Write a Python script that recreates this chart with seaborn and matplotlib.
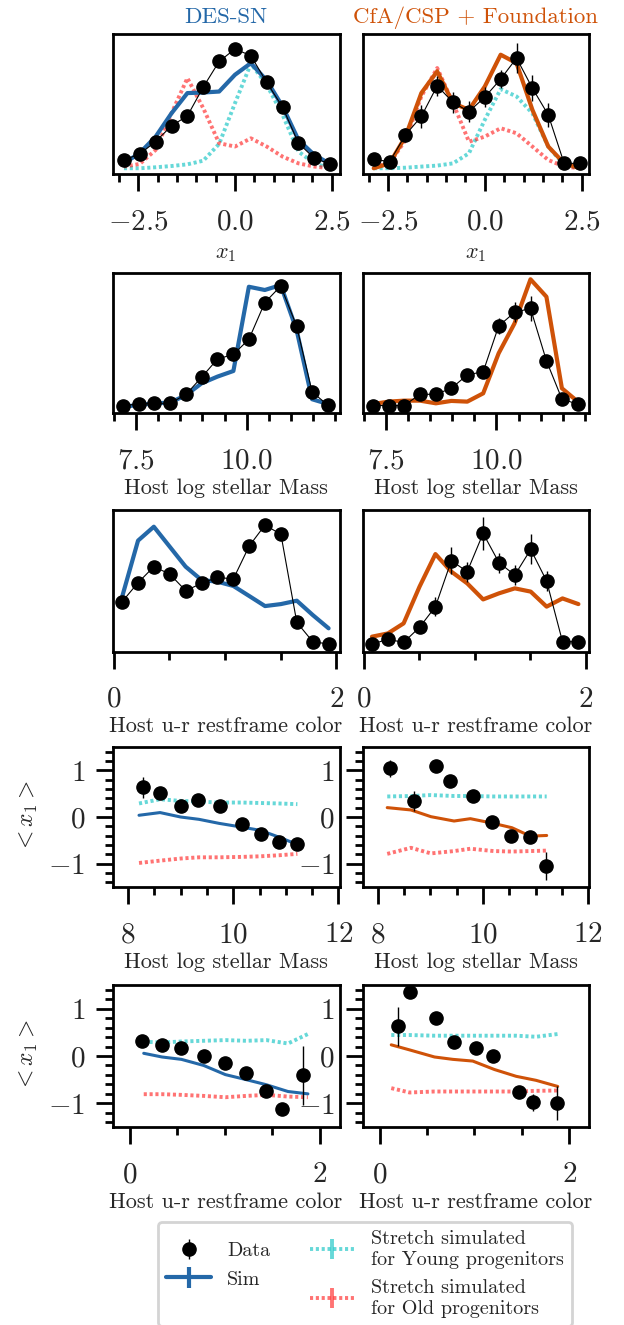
import matplotlib
matplotlib.use("Agg")
import matplotlib.pyplot as plt
from matplotlib.ticker import MultipleLocator, NullLocator
import seaborn as sns

# style first, fonts after (set_theme resets font.family)
sns.set_theme(style="ticks")
plt.rcParams["font.family"] = ["cmr10", "DejaVu Serif"]
plt.rcParams["mathtext.fontset"] = "cm"
plt.rcParams["axes.formatter.use_mathtext"] = True
plt.rcParams["xtick.labelsize"] = 21
plt.rcParams["ytick.labelsize"] = 21

DES_COLOR = "#2468a8"
CFA_COLOR = "#cf5208"
YOUNG_COLOR = (0.0, 0.75, 0.75)
OLD_COLOR = (1.0, 0.0, 0.0)
BLACK = "#000000"
DOTS = (0, (0.8, 0.7))

# ---- distributions (normalised, arbitrary units) ----
X1_BINS = [-2.87, -2.46, -2.05, -1.64, -1.23, -0.82, -0.41, 0.0, 0.41, 0.82, 1.23, 1.64, 2.05, 2.46]
des_x1_data = [0.100, 0.143, 0.232, 0.344, 0.415, 0.621, 0.804, 0.893, 0.845, 0.654, 0.477, 0.220, 0.112, 0.072]
des_x1_err = [0.03] * 14
des_x1_sim = [0.076, 0.150, 0.267, 0.434, 0.578, 0.582, 0.589, 0.709, 0.792, 0.668, 0.482, 0.243, 0.136, 0.072]
des_x1_young = [0.041, 0.041, 0.048, 0.057, 0.069, 0.095, 0.215, 0.506, 0.788, 0.637, 0.422, 0.160, 0.076, 0.041]
des_x1_old = [0.053, 0.072, 0.172, 0.434, 0.685, 0.470, 0.220, 0.196, 0.255, 0.196, 0.124, 0.076, 0.053, 0.041]

cfa_x1_data = [0.105, 0.088, 0.279, 0.411, 0.630, 0.511, 0.446, 0.549, 0.678, 0.828, 0.613, 0.422, 0.076, 0.076]
cfa_x1_err = [0.02, 0.02, 0.048, 0.083, 0.072, 0.076, 0.072, 0.072, 0.067, 0.107, 0.095, 0.083, 0.02, 0.02]
cfa_x1_sim = [0.041, 0.076, 0.267, 0.578, 0.733, 0.506, 0.458, 0.625, 0.852, 0.792, 0.458, 0.196, 0.076, 0.041]
cfa_x1_young = [0.041, 0.041, 0.045, 0.053, 0.060, 0.076, 0.148, 0.387, 0.606, 0.554, 0.434, 0.196, 0.064, 0.041]
cfa_x1_old = [0.053, 0.076, 0.243, 0.554, 0.757, 0.506, 0.231, 0.267, 0.327, 0.291, 0.196, 0.100, 0.053, 0.041]

MASS_BINS = [7.20, 7.56, 7.91, 8.27, 8.63, 8.98, 9.34, 9.70, 10.05, 10.41, 10.77, 11.13, 11.48, 11.84]
des_mass_data = [0.055, 0.066, 0.071, 0.071, 0.135, 0.256, 0.386, 0.419, 0.526, 0.787, 0.905, 0.621, 0.152, 0.057]
des_mass_err = [0.03] * 14
des_mass_sim = [0.047, 0.059, 0.071, 0.076, 0.130, 0.213, 0.261, 0.301, 0.900, 0.877, 0.912, 0.592, 0.100, 0.066]
cfa_mass_data = [0.055, 0.055, 0.055, 0.135, 0.135, 0.178, 0.273, 0.296, 0.621, 0.718, 0.746, 0.374, 0.102, 0.064]
cfa_mass_err = [0.02, 0.02, 0.02, 0.025, 0.025, 0.025, 0.03, 0.035, 0.059, 0.071, 0.09, 0.036, 0.02, 0.02]
cfa_mass_sim = [0.066, 0.083, 0.090, 0.090, 0.071, 0.088, 0.083, 0.142, 0.427, 0.640, 0.953, 0.829, 0.178, 0.083]

COLOR_BINS = [0.075, 0.218, 0.36, 0.503, 0.646, 0.789, 0.932, 1.075, 1.218, 1.36, 1.503, 1.646, 1.789, 1.932]
des_col_data = [0.353, 0.487, 0.600, 0.548, 0.431, 0.482, 0.525, 0.513, 0.746, 0.894, 0.828, 0.207, 0.071, 0.054]
des_col_err = [0.03] * 14
des_col_sim = [0.388, 0.784, 0.882, 0.741, 0.600, 0.506, 0.494, 0.464, 0.393, 0.322, 0.336, 0.360, 0.259, 0.165]
cfa_col_data = [0.054, 0.087, 0.066, 0.172, 0.318, 0.642, 0.565, 0.835, 0.628, 0.541, 0.722, 0.499, 0.071, 0.071]
cfa_col_err = [0.02, 0.02, 0.02, 0.035, 0.066, 0.094, 0.07, 0.118, 0.07, 0.07, 0.106, 0.07, 0.02, 0.02]
cfa_col_sim = [0.106, 0.129, 0.200, 0.459, 0.689, 0.565, 0.482, 0.369, 0.412, 0.447, 0.424, 0.318, 0.376, 0.336]

# ---- mean stretch vs host property ----
des_mmean_x = [8.28, 8.60, 9.01, 9.34, 9.74, 10.16, 10.52, 10.87, 11.22]
des_mmean_y = [0.635, 0.505, 0.231, 0.361, 0.238, -0.158, -0.374, -0.531, -0.575]
des_mmean_err = [0.22, 0.08, 0.07, 0.07, 0.07, 0.07, 0.07, 0.07, 0.07]
des_msim_x = [8.21, 8.61, 9.0, 9.35, 9.73, 10.16, 10.52, 10.87, 11.22]
des_msim_y = [0.037, 0.095, 0.0, -0.05, -0.136, -0.216, -0.287, -0.432, -0.59]
des_myoung_y = [0.29, 0.38, 0.345, 0.33, 0.31, 0.31, 0.30, 0.29, 0.275]
des_mold_y = [-0.985, -0.935, -0.89, -0.864, -0.864, -0.855, -0.842, -0.82, -0.79]

cfa_mmean_x = [8.24, 8.69, 9.10, 9.37, 9.81, 10.17, 10.54, 10.90, 11.19]
cfa_mmean_y = [1.043, 0.345, 1.086, 0.777, 0.453, -0.108, -0.41, -0.432, -1.05]
cfa_mmean_err = [0.18, 0.22, 0.08, 0.08, 0.08, 0.08, 0.08, 0.08, 0.29]
cfa_msim_x = [8.18, 8.63, 9.01, 9.45, 9.76, 10.20, 10.55, 10.90, 11.21]
cfa_msim_y = [0.201, 0.151, 0.007, -0.086, -0.036, -0.137, -0.23, -0.41, -0.396]
cfa_myoung_y = [0.44, 0.45, 0.47, 0.45, 0.45, 0.44, 0.44, 0.44, 0.44]
cfa_mold_y = [-0.79, -0.66, -0.78, -0.73, -0.68, -0.73, -0.74, -0.73, -0.72]

des_cmean_x = [0.133, 0.340, 0.544, 0.779, 1.007, 1.228, 1.439, 1.607, 1.825]
des_cmean_y = [0.321, 0.236, 0.179, 0.0, -0.143, -0.357, -0.736, -1.129, -0.407]
des_cmean_err = [0.08, 0.08, 0.08, 0.08, 0.08, 0.08, 0.08, 0.08, 0.62]
des_csim_x = [0.147, 0.340, 0.544, 0.779, 1.007, 1.228, 1.439, 1.667, 1.877]
des_csim_y = [0.057, -0.021, -0.071, -0.2, -0.393, -0.5, -0.607, -0.75, -0.8]
des_cyoung_y = [0.3, 0.286, 0.307, 0.321, 0.336, 0.321, 0.336, 0.264, 0.464]
des_cold_y = [-0.807, -0.807, -0.821, -0.843, -0.871, -0.843, -0.821, -0.857, -0.871]

cfa_cmean_x = [0.193, 0.316, 0.596, 0.789, 1.018, 1.2, 1.467, 1.614, 1.870]
cfa_cmean_y = [0.629, 1.357, 0.8, 0.286, 0.179, 0.0, -0.764, -0.979, -0.986]
cfa_cmean_err = [0.41, 0.1, 0.08, 0.08, 0.08, 0.08, 0.08, 0.18, 0.36]
cfa_csim_x = [0.123, 0.316, 0.579, 0.772, 0.982, 1.211, 1.439, 1.649, 1.877]
cfa_csim_y = [0.236, 0.129, -0.021, -0.071, -0.107, -0.286, -0.429, -0.514, -0.643]
cfa_cyoung_y = [0.443, 0.443, 0.429, 0.429, 0.429, 0.429, 0.429, 0.407, 0.464]
cfa_cold_y = [-0.679, -0.771, -0.75, -0.75, -0.75, -0.75, -0.75, -0.736, -0.729]

W, H = 624, 1325
fig = plt.figure(figsize=(W / 100, H / 100), dpi=100)

COL_LEFT = [112.7, 362.5]
ROWS = [(34, 174), (272.7, 413.3), (510, 651.7), (747, 887), (985, 1127)]


def panel(col, row):
    top, bot = ROWS[row]
    ax = fig.add_axes([COL_LEFT[col] / W, 1 - bot / H, 226.8 / W, (bot - top) / H])
    for s in ax.spines.values():
        s.set_linewidth(2)
        s.set_color(BLACK)
    ax.tick_params(which="major", direction="out", length=12, width=2, color=BLACK, pad=13)
    ax.tick_params(which="minor", direction="out", length=6, width=2, color=BLACK)
    return ax


def style_x(ax, lim, major, minor, label, labelpad=3):
    ax.set_xlim(*lim)
    ax.xaxis.set_major_locator(MultipleLocator(major))
    ax.xaxis.set_minor_locator(MultipleLocator(minor))
    ax.set_xlabel(label, fontsize=16, labelpad=labelpad)


def zeros(v):
    return [0.0] * len(v)


handles = {}


def dist(ax, x, data, err, sim, color, young=None, old=None):
    if young is not None:
        handles["young"] = ax.errorbar(x, young, yerr=zeros(x), color=YOUNG_COLOR, alpha=0.6, ls=DOTS, lw=2.8, zorder=1)
        handles["old"] = ax.errorbar(x, old, yerr=zeros(x), color=OLD_COLOR, alpha=0.55, ls=DOTS, lw=2.8, zorder=1)
    h = ax.errorbar(x, sim, yerr=zeros(x), color=color, lw=3, zorder=2)
    handles.setdefault("sim", h)
    sns.lineplot(x=x, y=data, color=BLACK, lw=0.8, ax=ax, zorder=3)
    handles["data"] = ax.errorbar(x, data, yerr=err, fmt="o", color=BLACK, ms=9.5, elinewidth=1, zorder=4)
    ax.set_ylim(0, 1)
    ax.yaxis.set_major_locator(NullLocator())
    ax.tick_params(left=False)


def means(ax, mx, my, merr, sx, sy, young, old, color):
    ax.errorbar(sx, young, yerr=zeros(sx), color=YOUNG_COLOR, alpha=0.6, ls=DOTS, lw=2.8, zorder=1)
    ax.errorbar(sx, old, yerr=zeros(sx), color=OLD_COLOR, alpha=0.55, ls=DOTS, lw=2.8, zorder=1)
    ax.errorbar(sx, sy, yerr=zeros(sx), color=color, lw=2.2, zorder=2)
    ax.errorbar(mx, my, yerr=merr, fmt="o", color=BLACK, ms=9.5, elinewidth=1, zorder=4)
    ax.set_ylim(-1.5, 1.5)
    ax.yaxis.set_major_locator(MultipleLocator(1))
    ax.yaxis.set_minor_locator(MultipleLocator(0.2))
    ax.tick_params(axis="y", which="major", pad=8)


# row 1: x1 distributions
ax = panel(0, 0)
dist(ax, X1_BINS, des_x1_data, des_x1_err, des_x1_sim, DES_COLOR, des_x1_young, des_x1_old)
style_x(ax, (-3.16, 2.70), 2.5, 0.5, "$x_1$", labelpad=7)
ax.set_title("DES-SN", color=DES_COLOR, fontsize=16.5, pad=8)
ax = panel(1, 0)
dist(ax, X1_BINS, cfa_x1_data, cfa_x1_err, cfa_x1_sim, CFA_COLOR, cfa_x1_young, cfa_x1_old)
style_x(ax, (-3.16, 2.70), 2.5, 0.5, "$x_1$", labelpad=7)
ax.set_title("CfA/CSP + Foundation", color=CFA_COLOR, fontsize=16.5, pad=8)

# row 2: host mass distributions
ax = panel(0, 1)
dist(ax, MASS_BINS, des_mass_data, des_mass_err, des_mass_sim, DES_COLOR)
style_x(ax, (6.97, 12.10), 2.5, 0.5, "Host log stellar Mass")
ax = panel(1, 1)
dist(ax, MASS_BINS, cfa_mass_data, cfa_mass_err, cfa_mass_sim, CFA_COLOR)
style_x(ax, (6.97, 12.10), 2.5, 0.5, "Host log stellar Mass")

# row 3: host colour distributions
ax = panel(0, 2)
dist(ax, COLOR_BINS, des_col_data, des_col_err, des_col_sim, DES_COLOR)
style_x(ax, (-0.01, 2.03), 2, 0.5, "Host u-r restframe color")
ax = panel(1, 2)
dist(ax, COLOR_BINS, cfa_col_data, cfa_col_err, cfa_col_sim, CFA_COLOR)
style_x(ax, (-0.01, 2.03), 2, 0.5, "Host u-r restframe color")

# row 4: <x1> vs mass
ax = panel(0, 3)
means(ax, des_mmean_x, des_mmean_y, des_mmean_err, des_msim_x, des_msim_y, des_myoung_y, des_mold_y, DES_COLOR)
style_x(ax, (7.71, 12.02), 2, 0.5, "Host log stellar Mass")
ax.set_ylabel("$<x_1>$", fontsize=17, labelpad=6)
ax = panel(1, 3)
means(ax, cfa_mmean_x, cfa_mmean_y, cfa_mmean_err, cfa_msim_x, cfa_msim_y, cfa_myoung_y, cfa_mold_y, CFA_COLOR)
style_x(ax, (7.71, 12.02), 2, 0.5, "Host log stellar Mass")

# row 5: <x1> vs colour
ax = panel(0, 4)
means(ax, des_cmean_x, des_cmean_y, des_cmean_err, des_csim_x, des_csim_y, des_cyoung_y, des_cold_y, DES_COLOR)
style_x(ax, (-0.18, 2.21), 2, 0.5, "Host u-r restframe color")
ax.set_ylabel("$<x_1>$", fontsize=17, labelpad=6)
ax = panel(1, 4)
means(ax, cfa_cmean_x, cfa_cmean_y, cfa_cmean_err, cfa_csim_x, cfa_csim_y, cfa_cyoung_y, cfa_cold_y, CFA_COLOR)
style_x(ax, (-0.18, 2.21), 2, 0.5, "Host u-r restframe color")

leg = fig.legend(
    [handles["data"], handles["sim"], handles["young"], handles["old"]],
    ["Data", "Sim", "Stretch simulated\nfor Young progenitors", "Stretch simulated\nfor Old progenitors"],
    loc="upper center", bbox_to_anchor=(365 / W, 1 - 1222 / H), ncol=2, borderaxespad=0,
    fontsize=14.5, handlelength=2.2, columnspacing=2.0, fancybox=True, framealpha=1,
)
leg.get_frame().set_edgecolor("#d4d4d4")
leg.get_frame().set_linewidth(2)

fig.savefig("out.png", dpi=100)
